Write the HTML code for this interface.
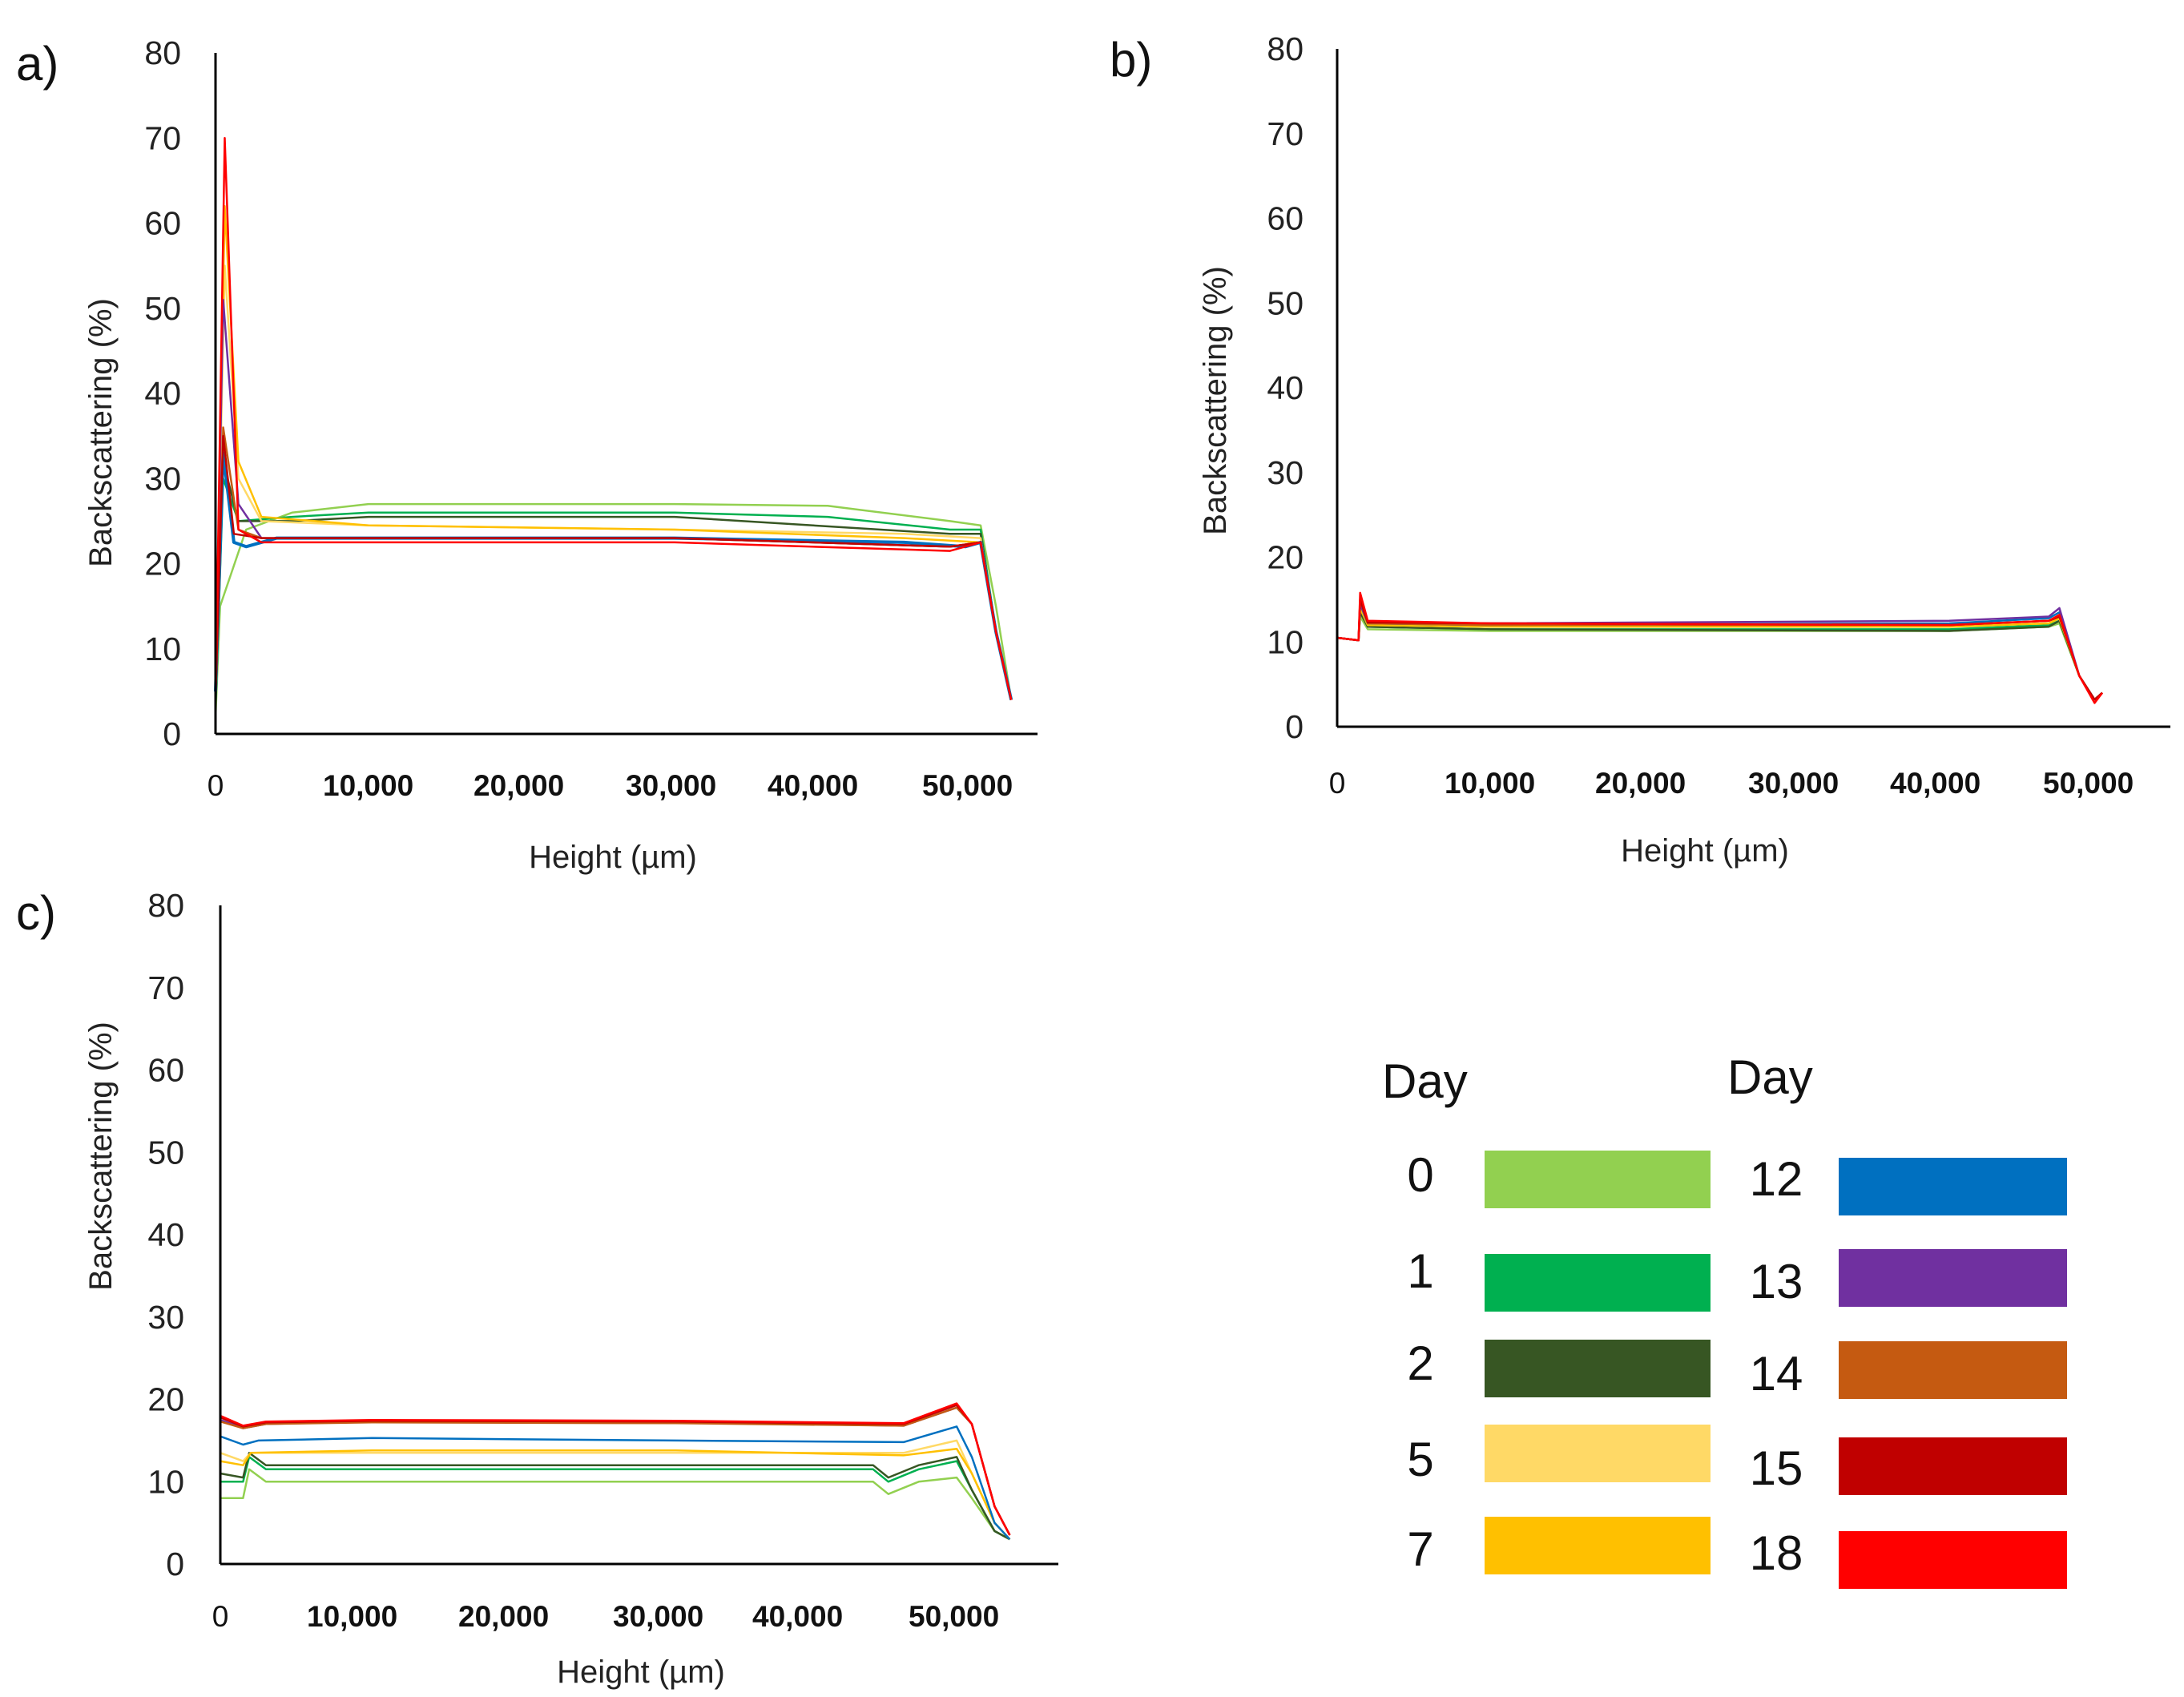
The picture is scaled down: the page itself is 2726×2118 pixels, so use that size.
<!DOCTYPE html>
<html><head><meta charset="utf-8">
<style>
html,body{margin:0;padding:0;background:#fff;}
body{width:2726px;height:2118px;overflow:hidden;position:relative;font-family:"Liberation Sans","DejaVu Sans",sans-serif;}
svg{position:absolute;left:0;top:0;}
</style></head>
<body>
<svg id="fig" width="2726" height="2118" viewBox="0 0 2726 2118"></svg>
<script>
// ---- data (x in µm, y in %) ----
const dayLabels = ["0","1","2","5","7","12","13","14","15","18"];
const dayColors = ["#92d050","#00b050","#375623","#ffd966","#ffc000","#0070c0","#7030a0","#c55a11","#c00000","#ff0000"];
const yTicks = [0,10,20,30,40,50,60,70,80];
const xTickLabels = ["0","10,000","20,000","30,000","40,000","50,000"];

const seriesA = [
 [[0,2],[300,15],[2000,24],[5000,26],[10000,27],[30000,27],[40000,26.8],[48000,25],[50000,24.5],[51000,15],[52000,4]],
 [[0,3],[500,30],[1500,25],[5000,25.5],[10000,26],[30000,26],[40000,25.5],[48000,24],[50000,24],[51000,12],[52000,4]],
 [[0,3],[500,32],[1500,25],[5000,25],[10000,25.5],[30000,25.5],[48000,23.5],[50000,23.5],[51000,12],[52000,4]],
 [[0,5],[600,55],[1500,30],[3000,25],[10000,24.5],[30000,24],[45000,23.5],[50000,23],[51000,12],[52000,4]],
 [[0,5],[600,62],[1500,32],[3000,25.5],[10000,24.5],[30000,24],[45000,23],[50000,22.5],[51000,12],[52000,4]],
 [[0,5],[500,33],[1200,22.5],[2000,22],[4000,23],[30000,23],[45000,22.5],[49000,22],[50000,22.5],[51000,12],[52000,4]],
 [[0,5],[500,51],[1500,27],[3000,23],[30000,23],[48000,22],[50000,22.5],[51000,12],[52000,4]],
 [[0,5],[500,36],[1500,24],[3000,23],[30000,23],[48000,22],[50000,22.5],[51000,12],[52000,4]],
 [[0,4],[500,35],[1200,23.5],[3000,23],[30000,23],[48000,22],[50000,22.5],[51000,12],[52000,4]],
 [[0,4],[600,70],[1500,24],[3000,22.5],[30000,22.5],[48000,21.5],[50000,22.5],[51000,12],[52000,4]]
];
const seriesB = [
 [[0,10.5],[1400,10.2],[1500,13],[2000,11.5],[10000,11.3],[40000,11.3],[46500,11.8],[47200,12.2],[48500,6],[49500,3.2],[50000,4]],
 [[0,10.5],[1400,10.2],[1500,13.5],[2000,11.8],[10000,11.5],[40000,11.5],[46500,12],[47200,12.5],[48500,6],[49500,3.2],[50000,4]],
 [[0,10.5],[1400,10.2],[1500,13.5],[2000,11.8],[10000,11.5],[40000,11.3],[46500,11.8],[47200,12.5],[48500,6],[49500,3.2],[50000,4]],
 [[0,10.5],[1400,10.2],[1500,14],[2000,12],[10000,11.8],[40000,11.8],[46500,12.2],[47200,12.8],[48500,6],[49500,3.2],[50000,4]],
 [[0,10.5],[1400,10.2],[1500,14],[2000,12],[10000,11.8],[40000,11.8],[46500,12.2],[47200,12.8],[48500,6],[49500,3.2],[50000,4]],
 [[0,10.5],[1400,10.2],[1500,14.5],[2000,12.2],[10000,12],[40000,12.2],[46500,12.8],[47200,13.5],[48500,6],[49500,3.2],[50000,4]],
 [[0,10.5],[1400,10.2],[1500,14.5],[2000,12.3],[10000,12.2],[40000,12.5],[46500,13],[47200,14],[48500,6],[49500,3.2],[50000,4]],
 [[0,10.5],[1400,10.2],[1500,15],[2000,12.2],[10000,12],[40000,12],[46500,12.5],[47200,13],[48500,6],[49500,3.2],[50000,4]],
 [[0,10.5],[1400,10.2],[1500,15],[2000,12.3],[10000,12.2],[40000,12],[46500,12.5],[47200,13],[48500,6],[49500,3.2],[50000,4]],
 [[0,10.5],[1400,10.2],[1500,15.8],[2000,12.5],[10000,12.2],[40000,12],[46500,12.5],[47200,13.2],[48500,6],[49500,2.8],[50000,4]]
];
const seriesC = [
 [[0,8],[1500,8],[1900,11.5],[3000,10],[10000,10],[30000,10],[43000,10],[44000,8.5],[46000,10],[48500,10.5],[49500,8],[51000,4],[52000,3]],
 [[0,10],[1500,10],[1900,13],[3000,11.5],[10000,11.5],[30000,11.5],[43000,11.5],[44000,10],[46000,11.5],[48500,12.5],[49500,9],[51000,4],[52000,3]],
 [[0,11],[1500,10.5],[1900,13.5],[3000,12],[10000,12],[30000,12],[43000,12],[44000,10.5],[46000,12],[48500,13],[49500,9],[51000,4],[52000,3]],
 [[0,13.5],[1500,12.5],[2000,13.5],[10000,13.5],[30000,13.5],[45000,13.5],[48500,15],[49500,11],[51000,5],[52000,3]],
 [[0,12.5],[1500,12],[2000,13.5],[10000,13.8],[30000,13.8],[45000,13.2],[48500,14],[49500,11],[51000,5],[52000,3]],
 [[0,15.5],[1500,14.5],[2500,15],[10000,15.3],[30000,15],[45000,14.8],[48500,16.7],[49500,13],[51000,5],[52000,3]],
 [[0,17.5],[1500,16.5],[3000,17],[10000,17.3],[30000,17.2],[45000,16.8],[48500,19],[49500,17],[51000,7],[52000,3.5]],
 [[0,17.3],[1500,16.5],[3000,17],[10000,17.2],[30000,17.1],[45000,16.8],[48500,19],[49500,17],[51000,7],[52000,3.5]],
 [[0,17.8],[1500,16.7],[3000,17.2],[10000,17.4],[30000,17.3],[45000,17],[48500,19.3],[49500,17],[51000,7],[52000,3.5]],
 [[0,18],[1500,16.8],[3000,17.3],[10000,17.5],[30000,17.4],[45000,17.1],[48500,19.5],[49500,17],[51000,7],[52000,3.5]]
];

// ---- layout ----
const NS = "http://www.w3.org/2000/svg";
const svg = document.getElementById("fig");
function mk(tag, attrs, parent){ const e=document.createElementNS(NS,tag); for(const k in attrs) e.setAttribute(k,attrs[k]); (parent||svg).appendChild(e); return e; }

const panels = [
 {id:"a", data:seriesA, ax:269, top:66, y0:916, xend:1295, pxPer1000:19.1, letter:[20,100], tickY:993,
  tickX:[269,469,657,847,1024,1217], ylabX:226, titleX:125, titleY:540, hx:765, hy:1083},
 {id:"b", data:seriesB, ax:1669, top:61, y0:907, xend:2709, pxPer1000:19.1, letter:[1385,95], tickY:990,
  tickX:[1669,1869,2057,2248,2425,2616], ylabX:1627, titleX:1516, titleY:500, hx:2128, hy:1075},
 {id:"c", data:seriesC, ax:275, top:1130, y0:1952, xend:1321, pxPer1000:18.95, letter:[20,1160], tickY:2030,
  tickX:[275,449,638,831,1005,1200], ylabX:230, titleX:125, titleY:1443, hx:800, hy:2100}
];

panels.forEach(p=>{
  const g = mk("g",{});
  
  
  const yScale = v => p.y0 - v*(p.y0-p.top)/80;
  const xScale = v => p.ax + v/1000*p.pxPer1000;
  const L = mk("text",{x:p.letter[0],y:p.letter[1],"font-size":60,fill:"#111"},g);
  L.textContent = p.id+")";
  
  
  yTicks.forEach(t=>{
    const tx = mk("text",{x:p.ylabX,y:yScale(t)+14,"font-size":41,fill:"#222","text-anchor":"end"},g);
    tx.textContent = t;
    
    
  });
  xTickLabels.forEach((t,i)=>{
    const tx = mk("text",{x:p.tickX[i],y:p.tickY,"font-size":37,fill:"#111","text-anchor":i==0?"middle":"start","font-weight":i==0?"normal":"bold"},g);
    if(i>0) tx.setAttribute("x", p.tickX[i]-66);
    tx.textContent = t;
    
    
  });
  const yt = mk("text",{x:0,y:0,"font-size":40,fill:"#222","text-anchor":"middle",transform:`translate(${p.titleX+14},${p.titleY}) rotate(-90)`},g);
  yt.textContent = "Backscattering (%)";
  
  
  const xt = mk("text",{x:p.hx,y:p.hy,"font-size":40,fill:"#222","text-anchor":"middle"},g);
  xt.textContent = "Height (µm)";
  
  
  p.data.forEach((s,i)=>{
    const d = s.map((pt,j)=>(j?"L":"M")+xScale(pt[0]).toFixed(1)+","+yScale(pt[1]).toFixed(1)).join(" ");
    const path = mk("path",{d:d,fill:"none",stroke:dayColors[i],"stroke-width":(i==5&&p.id=="a")?4:2.5,"stroke-linejoin":"round"},g);
    
    
  });
  const ya = mk("line",{x1:p.ax,y1:p.top,x2:p.ax,y2:p.y0,stroke:"#000","stroke-width":3},g);
  
  
  const xa = mk("line",{x1:p.ax,y1:p.y0,x2:p.xend,y2:p.y0,stroke:"#000","stroke-width":3},g);
  
  
});

// ---- legend ----
const lg = mk("g",{});


const d1 = mk("text",{x:1725,y:1370,"font-size":60,fill:"#111"},lg); d1.textContent="Day";


const d2 = mk("text",{x:2156,y:1365,"font-size":60,fill:"#111"},lg); d2.textContent="Day";


const leftY=[1436,1565,1672,1778,1893], rightY=[1445,1559,1674,1794,1911];
const leftNumY=[1487,1607,1722,1842,1954], rightNumY=[1492,1620,1735,1853,1959];
dayLabels.forEach((lab,i)=>{
  const right = i>=5, k = right?i-5:i;
  const sx = right?2295:1853, sw = right?285:282, sy = right?rightY[k]:leftY[k];
  const r = mk("rect",{x:sx,y:sy,width:sw,height:72,fill:dayColors[i]},lg);
  
  
  const t = mk("text",{x:right?2217:1773,y:right?rightNumY[k]:leftNumY[k],"font-size":60,fill:"#111","text-anchor":"middle"},lg);
  t.textContent = lab;
  
  
});
</script>
</body></html>
